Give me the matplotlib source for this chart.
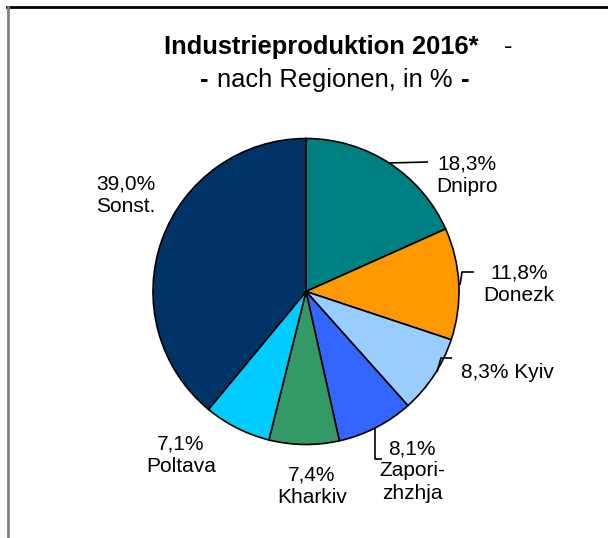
import matplotlib
matplotlib.use("Agg")
import matplotlib.pyplot as plt
import numpy as np

regions = ["Dnipro", "Donezk", "Kyiv", "Zapori-\nzhzhja", "Kharkiv", "Poltava", "Sonst."]
shares = [18.3, 11.8, 8.3, 8.1, 7.4, 7.1, 39.0]
colors = ["#008080", "#FF9900", "#99CCFF", "#3366FF", "#339966", "#00CCFF", "#003366"]
title1 = "Industrieproduktion 2016*"
title2 = "nach Regionen, in %"

plt.rcParams['font.family'] = ['Liberation Sans', 'DejaVu Sans']

W, H = 608, 538
fig = plt.figure(figsize=(W / 100, H / 100), dpi=100)
fig.patch.set_facecolor("white")

cx, cy, R = 306, 291.5, 153
ax = fig.add_axes([(cx - R) / W, (H - cy - R) / H, 2 * R / W, 2 * R / H])

wedges, _ = ax.pie(shares, colors=colors, startangle=90, counterclock=False, radius=1,
                   wedgeprops=dict(edgecolor='black', linewidth=1.2))
ax.set_xlim(-1, 1)
ax.set_ylim(-1, 1)
ax.set_aspect('equal')
ax.axis('off')

def px2d(px, py):
    return ((px - cx) / R, (cy - py) / R)

# label text centers (pixel layout)
label_pos = [(467, 175), (519, 284), (507, 372), (412, 471), (312, 486), (181, 455), (126, 195)]
for reg, val, (px, py) in zip(regions, shares, label_pos):
    sep = " " if reg == "Kyiv" else "\n"
    txt = f"{val:.1f}".replace(".", ",") + "%" + sep + reg
    x, y = px2d(px, py)
    ax.text(x, y, txt, ha='center', va='center', fontsize=15, linespacing=1.22,
            clip_on=False)

# leader lines (layout in pixels)
leaders = [
    [(388, 163), (428, 162)],
    [(460, 285), (462, 272), (474, 272)],
    [(437, 372), (441, 358), (452, 358)],
    [(375, 428), (375, 459), (382, 459)],
]
for pts in leaders:
    d = [px2d(*p) for p in pts]
    ax.plot([p[0] for p in d], [p[1] for p in d], color='black', lw=1.2,
            clip_on=False, solid_capstyle='butt')

# frame lines
fig.add_artist(plt.Line2D([7 / W, 1], [1 - 7 / H, 1 - 7 / H], color='black', lw=2,
                          transform=fig.transFigure))
fig.add_artist(plt.Line2D([8 / W, 8 / W], [0, 1 - 7 / H], color='#808080', lw=2,
                          transform=fig.transFigure))

# titles
fig.text(321.5 / W, 1 - 47 / H, title1, ha='center', va='center', fontsize=18.4,
         fontweight='bold')
fig.text(508 / W, 1 - 47 / H, "-", ha='center', va='center', fontsize=18.4)
fig.text(335 / W, 1 - 80 / H, title2, ha='center', va='center', fontsize=18.4)
fig.text(204 / W, 1 - 80 / H, "-", ha='center', va='center', fontsize=18.4,
         fontweight='bold')
fig.text(465 / W, 1 - 80 / H, "-", ha='center', va='center', fontsize=18.4,
         fontweight='bold')

fig.savefig("out.png", dpi=100)
